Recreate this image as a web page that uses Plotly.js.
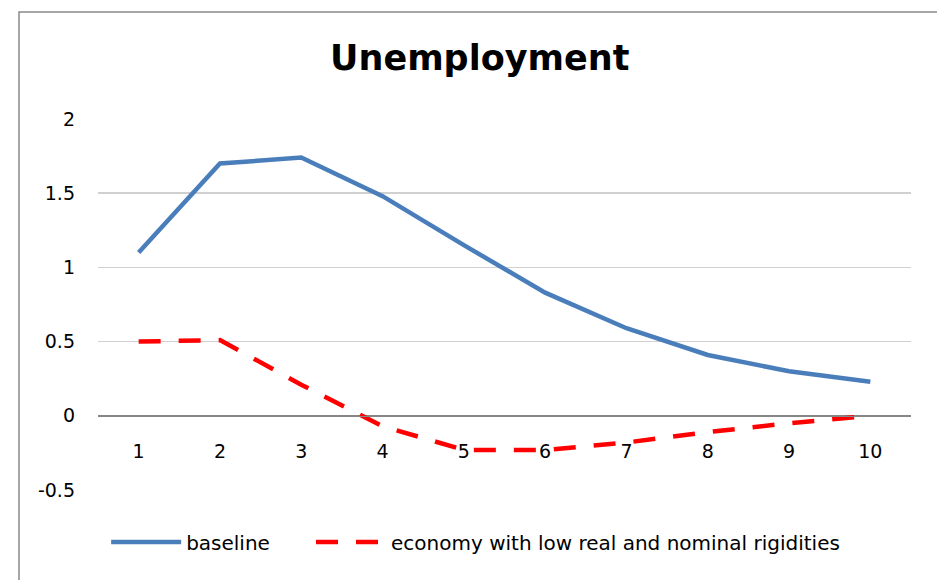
<!DOCTYPE html>
<html>
<head>
<meta charset="utf-8">
<script src="https://cdn.plot.ly/plotly-3.0.1.min.js"></script>
<style>
  html, body { margin: 0; padding: 0; background: #ffffff; }
  #chart { width: 937px; height: 580px; }
</style>
</head>
<body>
<div id="chart"></div>
<script>
// Quarters after the shock
const periods = [1, 2, 3, 4, 5, 6, 7, 8, 9, 10];
const periodLabels = ['1', '2', '3', '4', '5', '6', '7', '8', '9', '10'];

// Unemployment response, baseline model
const baseline = [1.10, 1.70, 1.74, 1.48, 1.15, 0.83, 0.59, 0.41, 0.30, 0.23];
// Unemployment response, economy with low real and nominal rigidities
const lowRigidities = [0.50, 0.51, 0.21, -0.07, -0.23, -0.23, -0.18, -0.11, -0.05, 0.00];

const yTicks = [-0.5, 0, 0.5, 1, 1.5, 2];
const yTickLabels = ['-0.5', '0', '0.5', '1', '1.5', '2'];

const textFont = 'DejaVu Sans, Verdana, sans-serif';

const traces = [
  {
    x: periods,
    y: baseline,
    name: 'baseline',
    type: 'scatter',
    mode: 'lines',
    legend: 'legend',
    line: { color: '#4A7EBB', width: 4.5 }
  },
  {
    x: periods,
    y: lowRigidities,
    name: 'economy with low real and nominal rigidities',
    type: 'scatter',
    mode: 'lines',
    legend: 'legend2',
    line: { color: '#FF0000', width: 4.5, dash: '22px,18px' }
  }
];

// Shared legend styling; the two entries sit side by side below the plot
const legendStyle = {
  orientation: 'h',
  xanchor: 'left',
  y: -0.14,
  yanchor: 'middle',
  font: { family: textFont, size: 20, color: '#000000' },
  itemwidth: 70,
  bgcolor: 'rgba(0,0,0,0)'
};

const layout = {
  width: 937,
  height: 580,
  margin: { l: 98, r: 26, t: 119, b: 90 },
  paper_bgcolor: '#ffffff',
  plot_bgcolor: '#ffffff',
  showlegend: true,
  title: {
    text: '<b>Unemployment</b>',
    font: { family: textFont, size: 35, color: '#000000' },
    x: 0.512,
    xanchor: 'center',
    y: 0.9,
    yanchor: 'middle'
  },
  xaxis: {
    range: [0.5, 10.5],
    tickvals: periods,
    ticktext: periodLabels,
    showgrid: false,
    zeroline: false,
    showline: true,
    linecolor: '#868686',
    linewidth: 1,
    ticks: '',
    anchor: 'free',
    position: 0.2,
    ticklabelstandoff: 18,
    tickfont: { family: textFont, size: 19, color: '#000000' },
    fixedrange: true
  },
  yaxis: {
    range: [-0.5, 2],
    tickvals: yTicks,
    ticktext: yTickLabels,
    showgrid: true,
    gridcolor: '#D0D0D0',
    gridwidth: 1.5,
    zeroline: true,
    zerolinecolor: '#868686',
    zerolinewidth: 1,
    showline: false,
    ticks: '',
    ticklabelstandoff: 22,
    tickfont: { family: textFont, size: 19, color: '#000000' },
    fixedrange: true
  },
  legend: Object.assign({}, legendStyle, { x: 0.010 }),
  legend2: Object.assign({}, legendStyle, { x: 0.262 }),
  shapes: [
    {
      type: 'rect',
      xref: 'paper',
      yref: 'paper',
      x0: (19 - 98) / 813,
      x1: 1.2,
      y0: -0.4,
      y1: (490 - 12) / 371,
      line: { color: '#898989', width: 1.5 },
      fillcolor: 'rgba(0,0,0,0)',
      layer: 'below'
    }
  ]
};

Plotly.newPlot('chart', traces, layout, { displayModeBar: false, staticPlot: true });
</script>
</body>
</html>
